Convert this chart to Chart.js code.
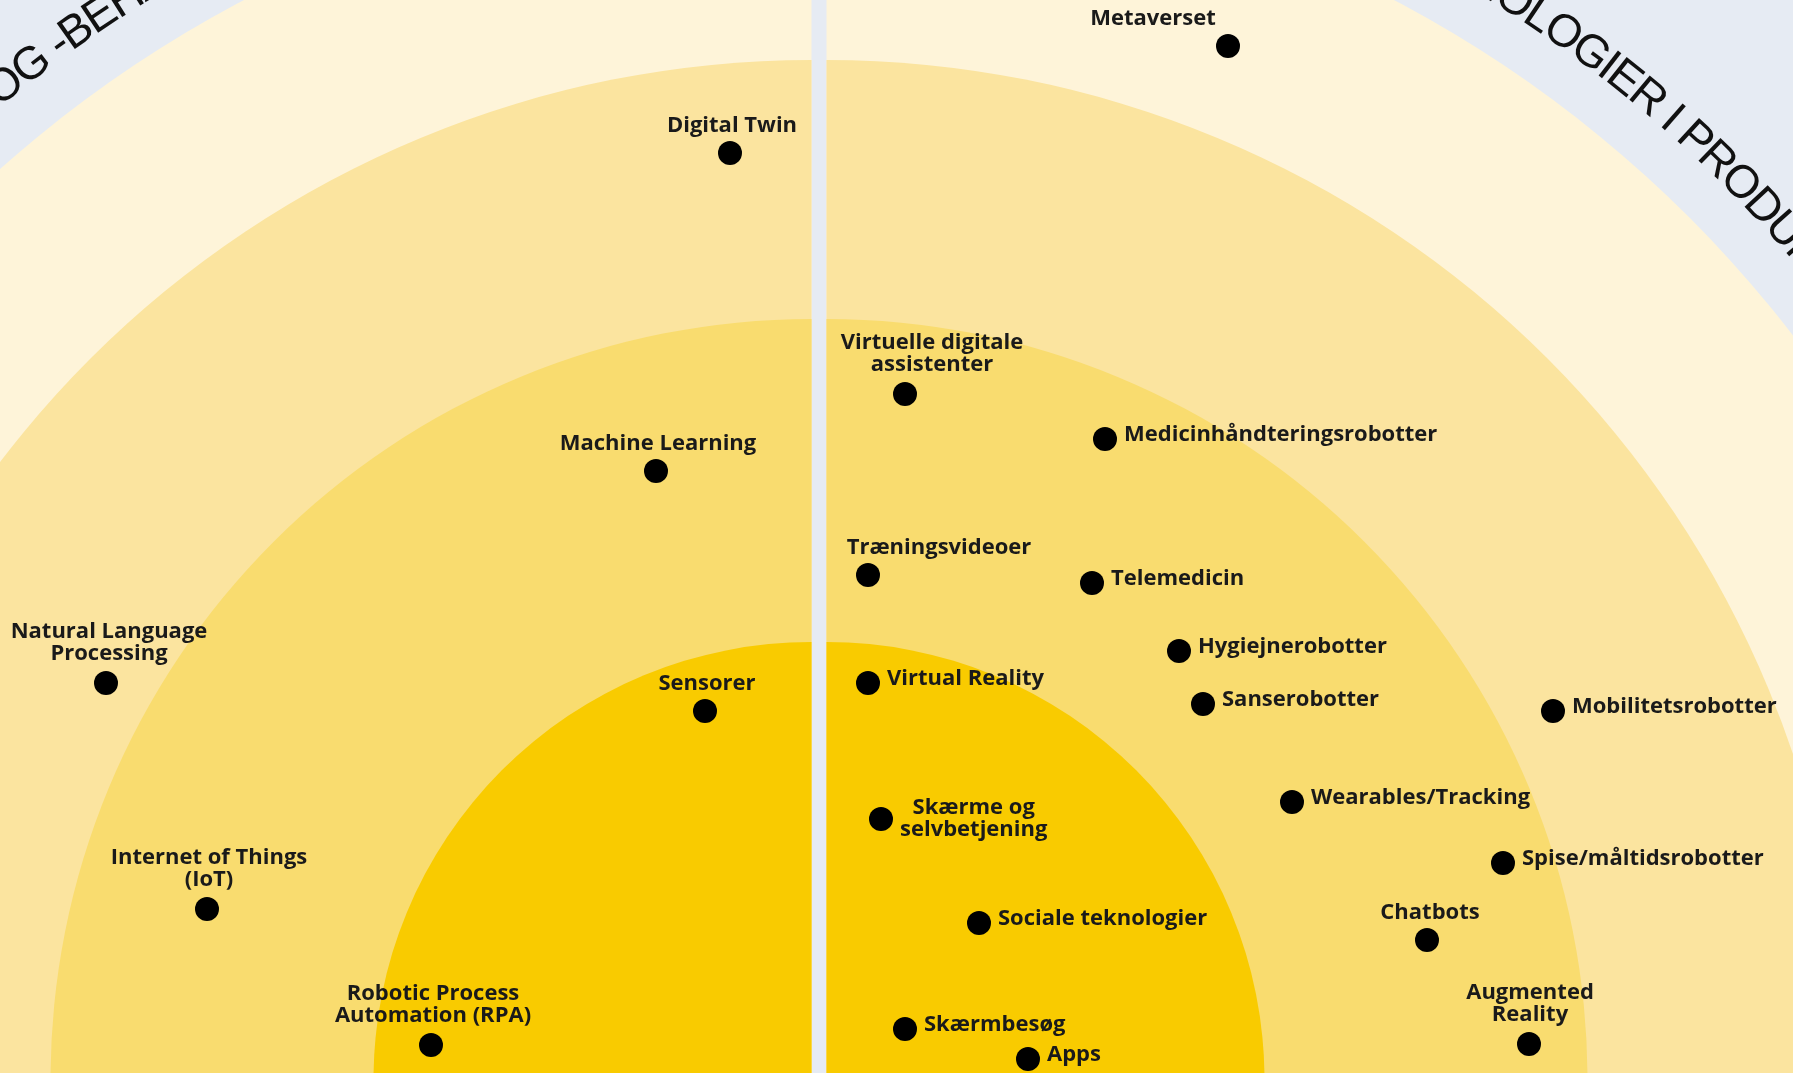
<!DOCTYPE html>
<html lang="da">
<head>
<meta charset="utf-8">
<title>Teknologiradar</title>
<script src="https://cdn.jsdelivr.net/npm/chart.js@4.4.1/dist/chart.umd.min.js"></script>
<style>
  html, body { margin: 0; padding: 0; background: #E6EBF3; }
  #wrap { width: 1793px; height: 1073px; position: relative; }
</style>
</head>
<body>
<div id="wrap"><canvas id="radarChart"></canvas></div>
<script>
/* ---------- data (x: left/right of centre line, y: height above centre) ---------- */
const techNames = [
  'Metaverset', 'Digital Twin', 'Virtuelle digitale\nassistenter', 'Medicinhåndteringsrobotter',
  'Machine Learning', 'Træningsvideoer', 'Telemedicin', 'Natural Language\nProcessing',
  'Hygiejnerobotter', 'Sensorer', 'Virtual Reality', 'Sanserobotter',
  'Mobilitetsrobotter', 'Wearables/Tracking', 'Skærme og\nselvbetjening', 'Internet of Things\n(IoT)',
  'Spise/måltidsrobotter', 'Sociale teknologier', 'Chatbots', 'Robotic Process\nAutomation (RPA)',
  'Skærmbesøg', 'Apps', 'Augmented\nReality'
];
const techX = [409, -89, 86, 286, -163, 49, 273, -713, 360, -114, 49, 384, 734, 473, 62, -612, 684, 160, 608, -388, 86, 209, 710];
const techY = [1034, 927, 686, 641, 609, 505, 497, 397, 429, 369, 397, 376, 369, 278, 261, 171, 217, 157, 140, 35, 51, 21, 36];

// ring radii, same units as x/y
const ringRadii = [438, 761, 1020, 1220];

// curved headings of the two halves
const sideTitles = ['DATAINDSAMLING OG -BEHANDLING', 'TEKNOLOGIER I PRODUKTION'];

/* ---------- layout / style ---------- */
const HALF_GAP = 7.5;
const RING_COLORS = ['#F9CB00', '#F9DC6F', '#FBE49F', '#FEF4D9'];
const BG_COLOR = '#E6EBF3';
const LABEL_FONT = 'bold 22px "Open Sans", sans-serif';
const LINE_H = 22;
const TITLE_RADIUS = 1267;
const TITLE_ANGLES = [-40.3, 40.8];
const TITLE_TRACKING = -2;

// 'top' = centred above the dot, 'right' = to the right of the dot
const labelAnchor = [
  'top', 'top', 'top', 'right', 'top', 'top', 'right', 'top',
  'right', 'top', 'right', 'right', 'right', 'right', 'rightBlock', 'top',
  'right', 'right', 'top', 'top', 'right', 'right', 'top'
];
const labelShiftX = [-75, 2, 27, 0, 2, 71, 0, 3, 0, 2, 0, 0, 0, 0, 0, 2, 0, 0, 3, 2, 0, 0, 1];

const radarBackground = {
  id: 'radarBackground',
  beforeDraw(chart) {
    const { ctx, scales: { x, y } } = chart;
    const cy = y.getPixelForValue(0);
    const unit = x.getPixelForValue(1) - x.getPixelForValue(0);
    ctx.save();
    ctx.fillStyle = BG_COLOR;
    ctx.fillRect(0, 0, chart.width, chart.height);

    [-1, 1].forEach((side, s) => {
      const cx = x.getPixelForValue(side * HALF_GAP);
      ctx.save();
      ctx.beginPath();
      if (side < 0) ctx.rect(0, 0, cx, chart.height);
      else ctx.rect(cx, 0, chart.width - cx, chart.height);
      ctx.clip();
      for (let i = ringRadii.length - 1; i >= 0; i--) {
        ctx.beginPath();
        ctx.arc(cx, cy, ringRadii[i] * unit, 0, Math.PI * 2);
        ctx.fillStyle = RING_COLORS[i];
        ctx.fill();
      }
      ctx.restore();

      // heading along the arc, outside the last ring
      drawArcText(ctx, sideTitles[s], cx, cy, TITLE_RADIUS * unit, TITLE_ANGLES[s] * Math.PI / 180);
    });
    ctx.restore();
  }
};

function drawArcText(ctx, text, cx, cy, radius, centerAngle) {
  ctx.save();
  ctx.font = '46px "Liberation Sans", Arial, sans-serif';
  ctx.fillStyle = '#111';
  ctx.textAlign = 'center';
  ctx.textBaseline = 'alphabetic';
  const chars = [...text];
  const widths = chars.map(ch => ctx.measureText(ch).width + TITLE_TRACKING);
  const total = widths.reduce((a, b) => a + b, 0);
  let pos = -total / 2;
  chars.forEach((ch, i) => {
    const w = widths[i];
    const a = centerAngle + (pos + w / 2) / radius;
    ctx.save();
    ctx.translate(cx + radius * Math.sin(a), cy - radius * Math.cos(a));
    ctx.rotate(a);
    ctx.fillText(ch, 0, 0);
    ctx.restore();
    pos += w;
  });
  ctx.restore();
}

const pointLabels = {
  id: 'pointLabels',
  afterDatasetsDraw(chart) {
    const { ctx } = chart;
    const meta = chart.getDatasetMeta(0);
    ctx.save();
    ctx.font = LABEL_FONT;
    ctx.fillStyle = '#1a1a1a';
    ctx.textBaseline = 'middle';
    meta.data.forEach((pt, i) => {
      const lines = techNames[i].split('\n');
      const anchor = labelAnchor[i];
      if (anchor === 'top') {
        ctx.textAlign = 'center';
        const base = lines.length > 1 ? 29 : 27;
        lines.forEach((ln, k) => {
          const yy = pt.y - base - (lines.length - 1 - k) * LINE_H;
          ctx.fillText(ln, pt.x + labelShiftX[i], yy);
        });
      } else if (anchor === 'right') {
        ctx.textAlign = 'left';
        ctx.fillText(lines[0], pt.x + 19, pt.y - 4);
      } else {
        const wMax = Math.max(...lines.map(l => ctx.measureText(l).width));
        ctx.textAlign = 'center';
        lines.forEach((ln, k) => {
          const yy = pt.y - 11 + k * LINE_H;
          ctx.fillText(ln, pt.x + 19 + wMax / 2, yy);
        });
      }
    });
    ctx.restore();
  }
};

new Chart(document.getElementById('radarChart'), {
  type: 'scatter',
  data: {
    datasets: [{
      label: 'Teknologier',
      data: techX.map((v, i) => ({ x: v, y: techY[i] })),
      backgroundColor: '#000',
      borderWidth: 0,
      pointRadius: 12,
      pointHoverRadius: 12
    }]
  },
  options: {
    responsive: true,
    maintainAspectRatio: false,
    animation: false,
    layout: { padding: 0, autoPadding: false },
    scales: {
      x: { type: 'linear', min: -819, max: 974, display: false },
      y: { type: 'linear', min: 7, max: 1080, display: false }
    },
    plugins: {
      legend: { display: false },
      tooltip: { enabled: false }
    }
  },
  plugins: [radarBackground, pointLabels]
});
</script>
</body>
</html>
